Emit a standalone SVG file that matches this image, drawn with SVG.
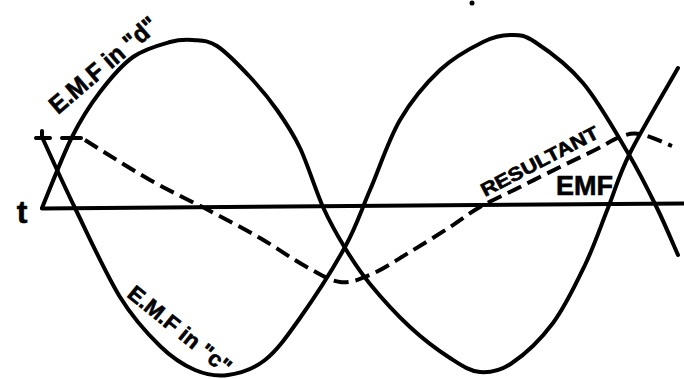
<svg xmlns="http://www.w3.org/2000/svg" width="684" height="379" viewBox="0 0 684 379">
<style>
.ln{fill:none;stroke:#000;stroke-width:4;stroke-linecap:round;stroke-linejoin:round}
.ds{fill:none;stroke:#000;stroke-width:4;stroke-dasharray:15 7}
.lb{font-family:"Liberation Sans",Arial,sans-serif;font-weight:bold;fill:#000;stroke:#000;stroke-width:0.6}
</style>
<rect width="684" height="379" fill="#fff"/>
<g id="axis">
<line class="ln" x1="42" y1="208.5" x2="684" y2="203.5"/>
<text class="lb" x="22" y="223" font-size="32" text-anchor="middle" font-family="DejaVu Sans">t</text>
</g>
<g id="emf-c">
<path class="ln" d="M42,137 C47.5,148.8 62,181.3 75,208 C88,234.7 105.8,274 120,297 C134.2,320 147.5,333.8 160,346 C172.5,358.2 183.7,365.2 195,370 C206.3,374.8 216.3,376.7 228,375 C239.7,373.3 253,369.5 265,360 C277,350.5 286.7,336.8 300,318 C313.3,299.2 333.3,268.3 345,247 C356.7,225.7 360.8,211.2 370,190 C379.2,168.8 388.3,140 400,120 C411.7,100 426.2,83 440,70 C453.8,57 471.3,47.8 483,42 C494.7,36.2 501.3,35 510,35 C518.7,35 522.8,34 535,42 C547.2,50 567.5,64.5 583,83 C598.5,101.5 615.7,132.2 628,153 C640.3,173.8 648.7,191 657,208 C665.3,225 674.5,247.2 678,255"/>
<line class="ln" x1="36" y1="138" x2="50" y2="138"/>
<line class="ln" x1="42" y1="131" x2="42" y2="138"/>
<text class="lb" x="126" y="296" font-size="22" textLength="126" lengthAdjust="spacingAndGlyphs" transform="rotate(39 126 296)">E.M.F in "c"</text>
</g>
<g id="emf-d">
<path class="ln" d="M42,208 C47,196.2 62.3,156.3 72,137 C81.7,117.7 89.8,105.3 100,92 C110.2,78.7 121.3,65.3 133,57 C144.7,48.7 160,44.8 170,42 C180,39.2 185.2,39.3 193,40 C200.8,40.7 207.5,39.8 217,46 C226.5,52.2 240,66.3 250,77 C260,87.7 268.7,98.2 277,110 C285.3,121.8 292.3,131.8 300,148 C307.7,164.2 315.5,190.3 323,207 C330.5,223.7 337.2,235.2 345,248 C352.8,260.8 359.2,270.8 370,284 C380.8,297.2 396.7,314.7 410,327 C423.3,339.3 438.3,350.5 450,358 C461.7,365.5 469.7,371.2 480,372 C490.3,372.8 499.8,371.2 512,363 C524.2,354.8 540.8,339.3 553,323 C565.2,306.7 575.8,284.2 585,265 C594.2,245.8 600.5,226.7 608,208 C615.5,189.3 618.3,176.3 630,153 C641.7,129.7 670,82.2 678,68"/>
<line class="ln" x1="62" y1="138" x2="81" y2="138"/>
<text class="lb" x="58" y="115" font-size="25" textLength="134" lengthAdjust="spacingAndGlyphs" transform="rotate(-40.5 58 115)">E.M.F in "d"</text>
</g>
<g id="resultant">
<path class="ds" d="M85,140 C95.8,146.7 129.2,168.2 150,180 C170.8,191.8 191.7,201.3 210,211 C228.3,220.7 244.2,228.8 260,238 C275.8,247.2 291.7,258.7 305,266 C318.3,273.3 328.8,280.7 340,282 C351.2,283.3 360.3,279 372,274 C383.7,269 397,259.8 410,252 C423,244.2 438.3,234.5 450,227 C461.7,219.5 468.3,213.7 480,207 C491.7,200.3 506.7,193.7 520,187 C533.3,180.3 547.5,173.2 560,167 C572.5,160.8 585,155 595,150 C605,145 612.5,139.7 620,137 C627.5,134.3 631.3,132.5 640,134 C648.7,135.5 666.7,144 672,146"/>
<text class="lb" x="485" y="197" font-size="19" textLength="130" lengthAdjust="spacingAndGlyphs" transform="rotate(-27.5 485 197)">RESULTANT</text>
<text class="lb" x="556" y="195" font-size="28" textLength="57" lengthAdjust="spacingAndGlyphs">EMF</text>
</g>
<circle cx="472" cy="3" r="2.5" fill="#000"/>
</svg>
